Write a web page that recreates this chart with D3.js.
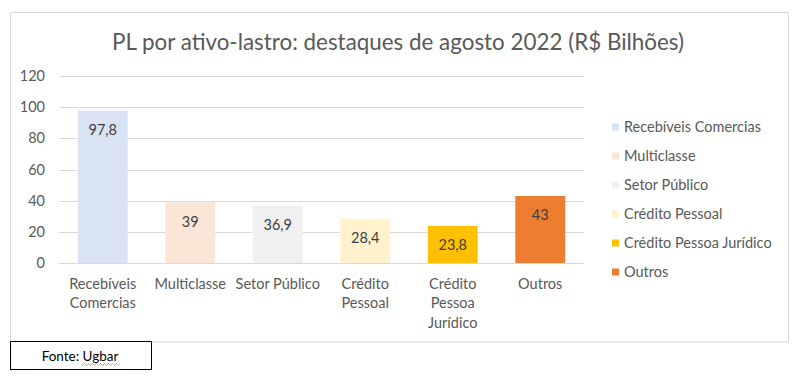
<!DOCTYPE html>
<html><head><meta charset="utf-8">
<script src="https://cdn.jsdelivr.net/npm/d3@7"></script>
<style>
body{margin:0;background:#fff;}
text{font-family:Lato,"Open Sans",sans-serif;}
</style></head>
<body>
<svg id="c" width="797" height="379"></svg>
<script>
const categories = ["Recebíveis Comercias","Multiclasse","Setor Público","Crédito Pessoal","Crédito Pessoa Jurídico","Outros"];
const axisLabels = [["Recebíveis","Comercias"],["Multiclasse"],["Setor Público"],["Crédito","Pessoal"],["Crédito","Pessoa","Jurídico"],["Outros"]];
const values = [97.8, 39, 36.9, 28.4, 23.8, 43];
const valueLabels = ["97,8","39","36,9","28,4","23,8","43"];
const colors = ["#DAE3F3","#FBE5D6","#F0F0F0","#FFF2CC","#FFC000","#ED7D31"];
const yTicks = [0,20,40,60,80,100,120];
const title = "PL por ativo-lastro: destaques de agosto 2022 (R$ Bilhões)";
const source = "Fonte: Ugbar";

const svg = d3.select("#c");
const txt = "#595959";
const fs = 14.5;

svg.append("rect").attr("x",10.5).attr("y",12.5).attr("width",778).attr("height",329.5)
  .attr("fill","#fff").attr("stroke","#D9D9D9").attr("stroke-width",1);

svg.append("text").attr("x",398).attr("y",50).attr("text-anchor","middle")
  .attr("font-size",22.4).attr("fill",txt).text(title);

const x = d3.scaleBand().domain(categories).range([59,584]).paddingInner(0.43).paddingOuter(0.215);
const y = d3.scaleLinear().domain([0,120]).range([263,76]);

const yAxis = d3.axisLeft(y).tickValues(yTicks).tickSize(0).tickPadding(14);
const gy = svg.append("g").attr("transform","translate(59,0)").call(yAxis);
gy.select(".domain").remove();
gy.selectAll("text").attr("font-size",fs).attr("fill",txt).attr("font-family","Lato,sans-serif");

svg.append("g").selectAll("line").data(yTicks).join("line")
  .attr("x1",59).attr("x2",584).attr("y1",d=>Math.round(y(d))+0.5).attr("y2",d=>Math.round(y(d))+0.5)
  .attr("stroke","#D9D9D9").attr("stroke-width",1);

svg.append("g").selectAll("rect").data(values).join("rect")
  .attr("x",(d,i)=>x(categories[i])).attr("width",x.bandwidth())
  .attr("y",d=>y(d)).attr("height",d=>y(0)-y(d))
  .attr("fill",(d,i)=>colors[i]);

svg.append("g").selectAll("text").data(values).join("text")
  .attr("x",(d,i)=>x(categories[i])+x.bandwidth()/2).attr("y",d=>y(d)+24.5)
  .attr("text-anchor","middle").attr("font-size",fs).attr("fill","#404040")
  .text((d,i)=>valueLabels[i]);

const gx = svg.append("g");
axisLabels.forEach((lines,i)=>{
  const t = gx.append("text").attr("x",x(categories[i])+x.bandwidth()/2).attr("y",288.5)
    .attr("text-anchor","middle").attr("font-size",fs).attr("fill",txt);
  lines.forEach((l,j)=>t.append("tspan").attr("x",x(categories[i])+x.bandwidth()/2).attr("dy",j?19.5:0).text(l));
});

const leg = svg.append("g").selectAll("g").data(categories).join("g")
  .attr("transform",(d,i)=>`translate(612,${127+i*29})`);
leg.append("rect").attr("x",0).attr("y",-3.5).attr("width",7).attr("height",7).attr("fill",(d,i)=>colors[i]);
leg.append("text").attr("x",12).attr("y",5).attr("font-size",fs).attr("fill",txt).text(d=>d);

svg.append("rect").attr("x",10.5).attr("y",341.5).attr("width",141).attr("height",28)
  .attr("fill","#fff").attr("stroke","#000").attr("stroke-width",1);
const ft = svg.append("text").attr("x",80).attr("y",361).attr("text-anchor","middle")
  .attr("font-size",13.5).attr("fill","#000").text(source);
const bb = ft.node().getBBox();
// red spell-check squiggle under "Ugbar"
const ugW = 37, ugX = bb.x + bb.width - ugW;
let p = "M"+ugX+","+(bb.y+bb.height+0.5);
for(let k=0;k<ugW;k+=2){ p += " l1,"+(k%4===0?1:-1)+" l1,"+(k%4===0?-1:1); }
svg.append("path").attr("d",p).attr("fill","none").attr("stroke","#E03030").attr("stroke-width",0.6);
</script>
</body></html>
